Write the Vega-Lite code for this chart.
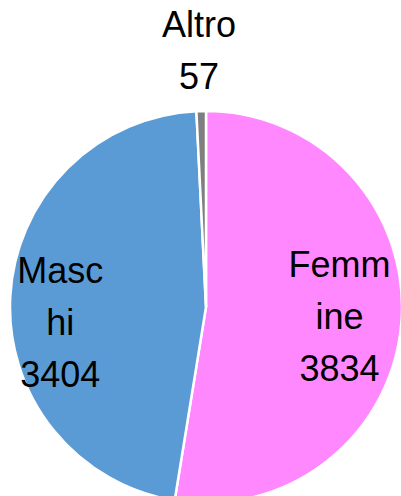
{
  "$schema": "https://vega.github.io/schema/vega-lite/v6.json",
  "width": 412,
  "height": 614,
  "autosize": {"type": "none"},
  "padding": {"left": 0, "top": 0, "right": -11, "bottom": -118},
  "background": "white",
  "config": {"view": {"stroke": null}},
  "data": {
    "values": [
      {"cat": "Femmine", "value": 3834, "label": ["Femm", "ine", "3834"]},
      {"cat": "Maschi", "value": 3404, "label": ["Masc", "hi", "3404"]},
      {"cat": "Altro", "value": 57, "label": ["Altro", "57"]}
    ]
  },
  "encoding": {
    "theta": {"field": "value", "type": "quantitative", "stack": true},
    "order": {"field": "value", "type": "quantitative", "sort": "descending"}
  },
  "layer": [
    {
      "mark": {"type": "arc", "outerRadius": 196, "stroke": "white", "strokeWidth": 2.5},
      "encoding": {
        "color": {
          "field": "cat",
          "type": "nominal",
          "scale": {"domain": ["Femmine", "Maschi", "Altro"], "range": ["#FF88FF", "#5B9BD5", "#7F7F7F"]},
          "legend": null
        }
      }
    },
    {
      "mark": {"type": "text", "radius": 134, "dy": -52, "font": "Liberation Sans", "fontSize": 36, "lineHeight": 52, "baseline": "middle", "align": "center", "color": "black"},
      "encoding": {
        "text": {"field": "label"},
        "opacity": {"condition": {"test": "datum.cat === 'Femmine'", "value": 1}, "value": 0}
      }
    },
    {
      "mark": {"type": "text", "radius": 146, "dy": -27, "font": "Liberation Sans", "fontSize": 36, "lineHeight": 52, "baseline": "middle", "align": "center", "color": "black"},
      "encoding": {
        "text": {"field": "label"},
        "opacity": {"condition": {"test": "datum.cat === 'Maschi'", "value": 1}, "value": 0}
      }
    },
    {
      "mark": {"type": "text", "radius": 281, "font": "Liberation Sans", "fontSize": 36, "lineHeight": 52, "baseline": "middle", "align": "center", "color": "black"},
      "encoding": {
        "text": {"field": "label"},
        "opacity": {"condition": {"test": "datum.cat === 'Altro'", "value": 1}, "value": 0}
      }
    }
  ]
}
